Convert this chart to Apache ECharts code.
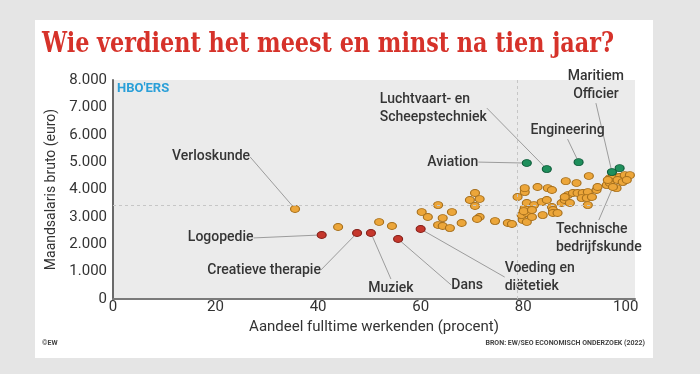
<!DOCTYPE html>
<html><head><meta charset="utf-8">
<script src="https://cdn.jsdelivr.net/npm/echarts@6/dist/echarts.min.js"></script>
<style>
html,body{margin:0;padding:0;background:#e5e5e5;width:700px;height:374px;overflow:hidden;}
#card{position:absolute;left:35px;top:20px;width:618px;height:338px;background:#fff;}
#c{position:absolute;left:0;top:0;width:700px;height:374px;}
</style>
</head><body><div id="card"></div><div id="c"></div>
<script>
const titleText = 'Wie verdient het meest en minst na tien jaar?';
const groupLabel = "HBO'ERS";
const xAxisName = 'Aandeel fulltime werkenden (procent)';
const yAxisName = 'Maandsalaris bruto (euro)';
const xTickStep = 20;
const yTickStep = 1000;
const creditText = '©EW';
const sourceText = 'BRON: EW/SEO ECONOMISCH ONDERZOEK (2022)';
const refLineX = 78.8;
const refLineY = 3430;

// Unlabeled HBO programmes: [aandeel fulltime %, maandsalaris]
const orangePoints = [
[43.9,2630],[51.9,2810],[54.4,2665],
[60.2,3175],[63.4,3430],[61.4,2995],[66.1,3175],[64.3,2955],[63.4,2700],[64.3,2665],[65.7,2590],[68.0,2775],
[70.6,3870],[69.6,3615],[71.5,3650],[70.6,3395],[71.5,2995],[71.0,2920],[74.5,2845],[77.0,2775],[77.8,2740],
[79.9,2885],[80.7,2810],[79.7,3065],[80.3,3320],[80.7,3505],[80.3,3905],[80.3,4050],[78.9,3725],[80.7,3140],[80.1,3210],
[82.8,4090],[84.8,4050],[85.6,3980],[82.1,3430],[83.6,3540],[84.6,3615],[81.7,3250],[81.7,2995],[83.8,3065],
[85.6,3360],[85.8,3250],[85.8,3140],[86.7,3140],[87.5,3505],[88.1,3615],[88.3,4305],[90.4,4235],
[88.7,3795],[89.7,3870],[90.6,3870],[91.6,3870],[92.6,3905],[92.8,4490],[91.4,3685],[92.4,3685],[92.6,3430],[93.4,3725],
[94.3,3980],[94.5,4090],[96.3,4160],[96.9,4235],[96.9,4415],[97.5,4525],[98.8,4455],[99.8,4525],[100.8,4525],
[98.2,4050],[98.4,4345],[99.4,4270],[96.5,4345],[100.2,4345],[89.1,3505],[88.1,3725]
];
const orangeLabeledPoints = [[35.5,3290],[97.5,4090]];
const orangeLabeledNames = ['Verloskunde','Technische\nbedrijfskunde'];

const redPoints = [[40.7,2340],[47.6,2410],[50.3,2410],[55.6,2190],[60.0,2555]];
const redNames = ['Logopedie','Creatieve therapie','Muziek','Dans','Voeding en\ndiëtetiek'];

const greenPoints = [[80.7,4965],[84.6,4745],[90.8,5000],[97.3,4635],[98.8,4780]];
const greenNames = ['Aviation','Luchtvaart- en\nScheepstechniek','Engineering','Maritiem\nOfficier',''];

// label placement (pixel offsets from the dot) -- layout only
const labelPlacement = {
  'Verloskunde': {dx:-84, dy:-52, align:'center'},
  'Technische\nbedrijfskunde': {dx:-57, dy:51, align:'left'},
  'Logopedie': {dx:-101, dy:3, align:'center'},
  'Creatieve therapie': {dx:-93, dy:37, align:'center'},
  'Muziek': {dx:20, dy:55, align:'center'},
  'Dans': {dx:69, dy:46, align:'center'},
  'Voeding en\ndiëtetiek': {dx:84, dy:48, align:'left'},
  'Aviation': {dx:-74, dy:-1, align:'center'},
  'Luchtvaart- en\nScheepstechniek': {dx:-167, dy:-61, align:'left'},
  'Engineering': {dx:-11, dy:-32, align:'center'},
  'Maritiem\nOfficier': {dx:-16, dy:-87, align:'center'}
};

const labelFont = {fontFamily:'Roboto', fontWeight:500, fontSize:14, color:'#353535', lineHeight:18};

function items(points, names){
  return points.map((p,i)=>{
    const n = names ? names[i] : '';
    if(!n) return {value:p};
    const pl = labelPlacement[n];
    return {
      value:p, name:n,
      label:Object.assign({show:true, position:'inside', formatter:n, align:pl.align, verticalAlign:'middle',
        textBorderWidth:0}, labelFont),
      labelLine:{show:true, length2:0, lineStyle:{color:'#9c9c9c', width:1}}
    };
  });
}

const chart = echarts.init(document.getElementById('c'), null, {renderer:'canvas', width:700, height:374});

// measure title to fit condensed width
const cv = document.createElement('canvas').getContext('2d');
const titleFont = 'bold 28px "DejaVu Serif"';
cv.font = titleFont;
const titleScale = 572 / cv.measureText(titleText).width;

function layoutFn(params){
  const pl = labelPlacement[params.text];
  if(!pl) return {};
  return {dx:pl.dx, dy:pl.dy};
}

const symStyle = (fill, stroke)=>({color:fill, borderColor:stroke, borderWidth:1, opacity:1});

const option = {
  backgroundColor:'transparent',
  animation:false,
  grid:{left:113, right:65, top:80, bottom:75, show:true, backgroundColor:'#ebebeb', borderWidth:0},
  xAxis:{
    type:'value', min:0, max:101.8, interval:xTickStep,
    name:xAxisName, nameLocation:'middle', nameGap:13,
    nameTextStyle:{fontFamily:'Roboto', fontSize:15, color:'#333', verticalAlign:'top'},
    axisLine:{show:true, lineStyle:{color:'#7a7a7a', width:2}},
    axisTick:{show:false}, splitLine:{show:false},
    axisLabel:{fontFamily:'Roboto', fontSize:15, color:'#333', margin:1,
      formatter:v=> (Math.abs(v % xTickStep) < 1e-6 && v<=100) ? String(v) : ''}
  },
  yAxis:{
    type:'value', min:0, max:8000, interval:yTickStep,
    name:yAxisName, nameLocation:'middle', nameGap:54, nameRotate:90,
    nameTextStyle:{fontFamily:'Roboto', fontSize:14, color:'#333'},
    axisLine:{show:true, lineStyle:{color:'#6a6a6a', width:2}},
    axisTick:{show:false}, splitLine:{show:false},
    axisLabel:{fontFamily:'Roboto', fontSize:15, color:'#333', margin:6,
      formatter:v=> v===0 ? '0' : (v/1000).toFixed(0)+'.000'}
  },
  graphic:[
    {type:'text', x:42, y:45, scaleX:titleScale, originX:0, originY:0,
     style:{text:titleText, font:titleFont, fill:'#d6322a', align:'left', verticalAlign:'middle'}},
    {type:'text', x:117, y:89, style:{text:groupLabel, font:'bold 13px Roboto', fill:'#2a9fd8', align:'left', verticalAlign:'middle'}},
    {type:'text', x:42, y:343, style:{text:creditText, font:'bold 7px Roboto', fill:'#444', align:'left', verticalAlign:'middle'}},
    {type:'text', x:645, y:343, style:{text:sourceText, font:'bold 7px Roboto', fill:'#444', align:'right', verticalAlign:'middle'}}
  ],
  series:[
    {type:'scatter', name:'overig', symbol:'circle', symbolSize:[9,7], z:2,
     itemStyle:symStyle('#eca63a','#a66f1c'),
     data:items(orangePoints.concat(orangeLabeledPoints), new Array(orangePoints.length).fill('').concat(orangeLabeledNames)),
     labelLayout:layoutFn,
     markLine:{silent:true, symbol:'none', label:{show:false},
       lineStyle:{type:[3,3], color:'#c6c6c6', width:1},
       data:[{xAxis:refLineX},{yAxis:refLineY}]}
    },
    {type:'scatter', name:'laag', symbol:'circle', symbolSize:[9,7], z:3,
     itemStyle:symStyle('#c5372c','#84201a'),
     data:items(redPoints, redNames), labelLayout:layoutFn},
    {type:'scatter', name:'hoog', symbol:'circle', symbolSize:[9,7], z:3,
     itemStyle:symStyle('#1f8f5c','#0f5c3a'),
     data:items(greenPoints, greenNames), labelLayout:layoutFn}
  ]
};
chart.setOption(option);
</script>
</body></html>
